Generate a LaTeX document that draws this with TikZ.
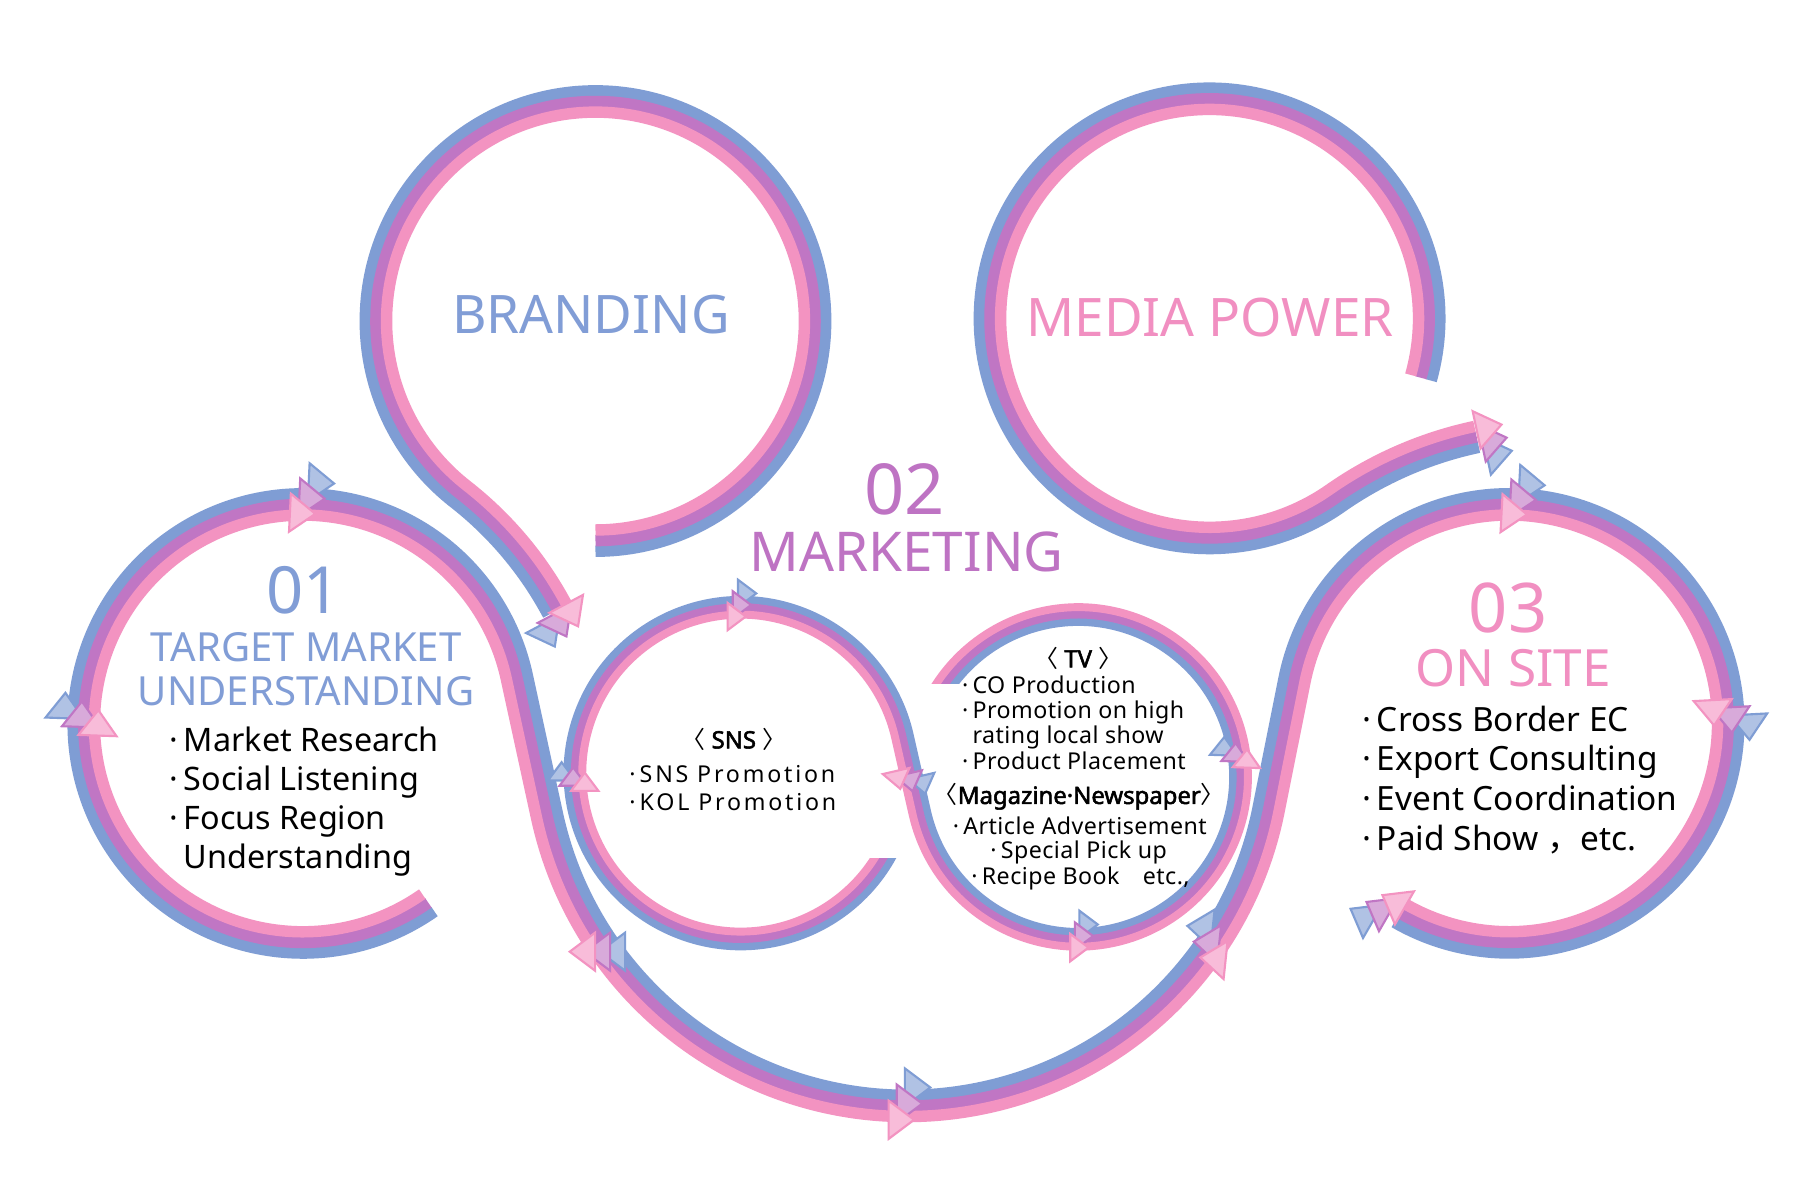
\documentclass[tikz,border=0pt]{standalone}
\usepackage{fontspec}
\setmainfont{Noto Sans}
\newfontfamily\cjk{Noto Sans CJK JP}
\newfontfamily\snsfont[LetterSpace=12]{Noto Sans}
\newfontfamily\tvfont[LetterSpace=2]{Noto Sans}
\newfontfamily\heavyfont[FakeBold=2.2]{Noto Sans}
\usepackage{tikz}
\usetikzlibrary{calc}

\definecolor{bandblue}{HTML}{7F9DD4}
\definecolor{bandpurple}{HTML}{C076C4}
\definecolor{bandpink}{HTML}{F393C1}
\definecolor{txtblue}{HTML}{819DD6}
\definecolor{txtpink}{HTML}{F18FC1}
\definecolor{txtpurple}{HTML}{BE73C3}

\newcommand{\itemdot}{·\hspace{0.18em}}
% one triangle of an arrow, local x = travel, local y = right side
\newcommand{\tri}[3]{\filldraw[tipfill=#3] ({#1},{#2}) ++({11*\ts},0) -- ++({-22*\ts},{-16.5*\ts}) -- ++(0,{33*\ts}) -- cycle;}
% three triangles: x, y, heading, along, lateral, size
\newcommand{\trio}[6]{%
  \begin{scope}[shift={(#1,#2)}, rotate={-1*(#3)}]
    \def\ts{#6}
    \tri{#4}{#5}{bandblue}
    \tri{0}{0}{bandpurple}
    \tri{-1*(#4)}{-1*(#5)}{bandpink}
  \end{scope}}

\begin{document}
\begin{tikzpicture}[x=0.011556cm, y=-0.011556cm,
    band/.style={draw=#1, line width=3.25pt},
    thinband/.style={draw=#1, line width=2.25pt},
    tipfill/.style={draw=#1, fill=#1!62!white, line width=0.6pt},
    head/.style={anchor=base, inner sep=0pt, font=\fontsize{15.1}{18}\selectfont},
    num/.style={anchor=base, inner sep=0pt, font=\fontsize{19.5}{22}\selectfont},
    sub/.style={anchor=base, inner sep=0pt, font=\fontsize{11.4}{13}\selectfont, text=txtblue},
    item/.style={anchor=base west, inner sep=0pt, font=\fontsize{9.2}{11}\selectfont},
    snsitem/.style={anchor=base west, inner sep=0pt, font=\snsfont\fontsize{6.6}{8}\selectfont},
    tvitem/.style={anchor=base west, inner sep=0pt, font=\tvfont\fontsize{6.6}{8}\selectfont},
    tvhead/.style={anchor=base, inner sep=0pt, font=\heavyfont\fontsize{6.8}{8}\selectfont}]

  \fill[white] (0,0) rectangle (1568,1038);
  \useasboundingbox (0,0) rectangle (1568,1038);

  \coordinate (CB) at (515.3,277.8);
  \coordinate (CM) at (1046.7,275.5);
  \coordinate (C1) at (262,626);
  \coordinate (CS) at (641,669);

  % RIBBON BRANDING
  \foreach \off/\col in {-9.2/bandblue, 0/bandpurple, 9.2/bandpink}
    \draw[band=\col] ($(CB)+(90:{190-\off})$) arc[start angle=90, end angle=-232, radius={190-\off}]
      arc[start angle=-52, end angle=-28, radius={315+\off}];

  % RIBBON MEDIA POWER
  \foreach \off/\col in {-9.2/bandblue, 0/bandpurple, 9.2/bandpink}
    \draw[band=\col] ($(CM)+(15.7:{190-\off})$) arc[start angle=15.7, end angle=-305, radius={190-\off}]
      arc[start angle=-125, end angle=-102, radius={334+\off}];

  % RIBBON 01 -> BOTTOM -> 03
  \foreach \off/\col in {9.2/bandblue, 0/bandpurple, -9.2/bandpink}
    \draw[band=\col] ($(C1)+(55:{189.5+\off})$) arc[start angle=55, end angle=347.72, radius={189.5+\off}]
      -- ++(77.72:122.9) arc[start angle=167.72, end angle=11.33, radius={319-\off}]
      -- ++(-78.67:114.1) arc[start angle=-168.67, end angle=120, radius={189.5+\off}];

  % RIBBON SNS -> TV
  \foreach \off/\col in {6.4/bandblue, 0/bandpurple, -6.4/bandpink}
    \draw[thinband=\col] ($(CS)+(23:{143.5+\off})$) arc[start angle=23, end angle=347.2, radius={143.5+\off}]
      -- ++(77.2:67.9) arc[start angle=167.2, end angle=-155, radius={140.5-\off}];
  % level cuts of both ends
  \fill[white] (740,715) rectangle (788,742.5);
  \fill[white] (794,592.3) rectangle (845,640);

  % ARROWS
  \trio{70.5}{618}{272}{7}{-14.5}{1}
  \trio{270}{431}{2.7}{7.5}{-13.5}{1}
  \trio{485}{541}{62}{3}{13}{1}
  \trio{517}{823.5}{180}{-13}{0}{1}
  \trio{787}{955}{0}{7}{-14}{1}
  \trio{1044}{816}{186}{7}{13}{1}
  \trio{1318}{432}{3}{7}{-13}{1}
  \trio{1498}{623}{87}{7}{-15}{1}
  \trio{1192}{786}{210}{9}{-12}{1}
  \trio{1293}{381}{-12}{2}{12}{1}
  \trio{642}{523.5}{0}{4.5}{-10}{0.72}
  \trio{496}{672}{270}{4.5}{-10}{0.72}
  \trio{788}{677}{77}{4.5}{-10}{0.72}
  \trio{938}{810}{0}{4}{-10}{0.72}
  \trio{1069}{651}{-88}{5}{-10}{0.72}

  % TITLES
  \node[head, text=txtblue] (brand) at (511.3,288.8) {BRANDING};
  \node[head, text=txtpink] (media) at (1047,291.4) {MEDIA POWER};
  \node[num, font=\fontsize{20}{22}\selectfont, text=txtpurple] (n02) at (783,445) {02};
  \node[head, font=\fontsize{15.6}{18}\selectfont, text=txtpurple] (mkt) at (784.5,494.5) {MARKETING};
  \node[num, font=\fontsize{18.5}{22}\selectfont, text=txtblue] (n01) at (262.5,530.7) {01};
  \node[sub] (tgt1) at (265,572.6) {TARGET MARKET};
  \node[sub] (tgt2) at (264.8,610.1) {UNDERSTANDING};
  \node[num, text=txtpink] (n03) at (1305,547.6) {03};
  \node[head, font=\fontsize{14.6}{18}\selectfont, text=txtpink] (site) at (1309.4,594.2) {ON SITE};

  % LIST 01
  \foreach \t [count=\i] in {Market Research, Social Listening, Focus Region}
    \node[item] (r\i) at (146,{650.5+33.6*(\i-1)}) {\itemdot\t};
  \node[item] (r4) at (158.3,751.4) {Understanding};

  % LIST 03
  \foreach \t [count=\i] in {Cross Border EC, Export Consulting, Event Coordination, {Paid Show {\cjk ，}etc.}}
    \node[item, font=\fontsize{9.5}{11}\selectfont] (s\i) at (1178,{632.8+34.3*(\i-1)}) {\itemdot\t};

  % SNS
  \node[tvhead] (snshead) at (635,647.6) {{\cjk 〈} SNS {\cjk 〉}};
  \node[snsitem] (sns1) at (544,677) {\itemdot SNS Promotion};
  \node[snsitem] (sns2) at (544,701) {\itemdot KOL Promotion};

  % TV
  \node[tvhead] (tvhead) at (933,577.5) {{\cjk 〈} TV {\cjk 〉}};
  \node[tvitem] (tv1) at (832,600) {\itemdot CO Production};
  \node[tvitem] (tv2) at (832,621.6) {\itemdot Promotion on high};
  \node[tvitem] (tv3) at (841,643.2) {rating local show};
  \node[tvitem] (tv4) at (832,666.3) {\itemdot Product Placement};
  \node[tvhead] (maghead) at (934,695.7) {{\cjk 〈}Magazine·Newspaper{\cjk 〉}};
  \node[tvitem] (mg1) at (824,721.7) {\itemdot Article Advertisement};
  \node[tvitem] (mg2) at (856.5,742.8) {\itemdot Special Pick up};
  \node[tvitem] (mg3) at (840,765) {\itemdot Recipe Book\quad etc.,};
\end{tikzpicture}
\end{document}
